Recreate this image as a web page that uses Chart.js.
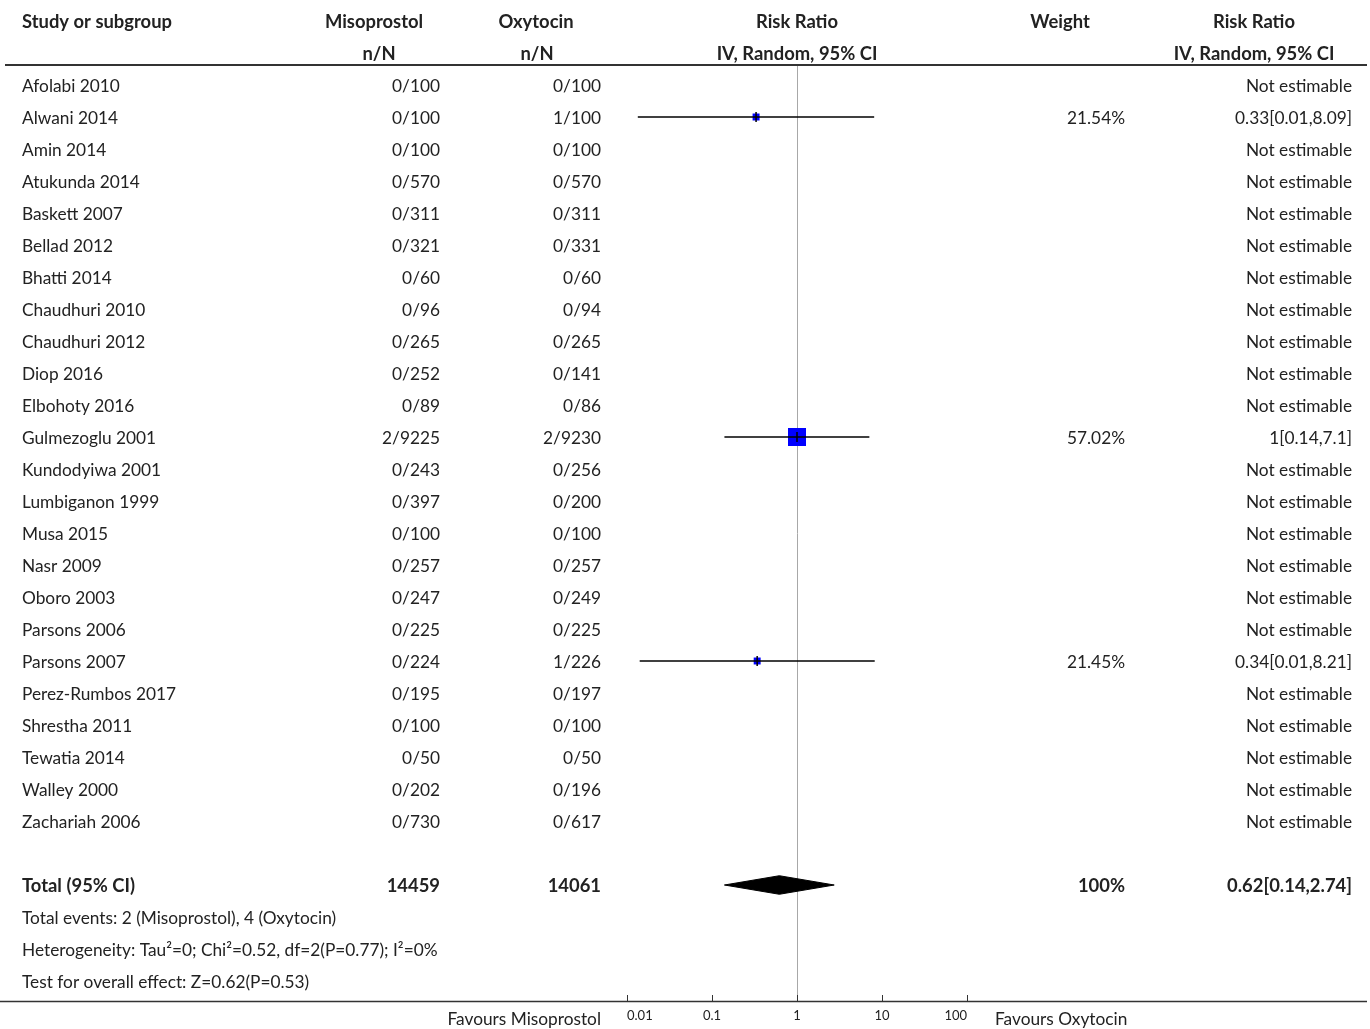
<!DOCTYPE html>
<html>
<head>
<meta charset="utf-8">
<script src="https://cdn.jsdelivr.net/npm/chart.js@4/dist/chart.umd.min.js"></script>
<style>
  html, body { margin: 0; padding: 0; background: #fff; }
  #wrap { width: 1370px; height: 1029px; }
</style>
</head>
<body>
<div id="wrap"><canvas id="forest" width="1370" height="1029"></canvas></div>
<script>
// study rows, top to bottom
const studies = [
  "Afolabi 2010", "Alwani 2014", "Amin 2014", "Atukunda 2014", "Baskett 2007",
  "Bellad 2012", "Bhatti 2014", "Chaudhuri 2010", "Chaudhuri 2012", "Diop 2016",
  "Elbohoty 2016", "Gulmezoglu 2001", "Kundodyiwa 2001", "Lumbiganon 1999", "Musa 2015",
  "Nasr 2009", "Oboro 2003", "Parsons 2006", "Parsons 2007", "Perez-Rumbos 2017",
  "Shrestha 2011", "Tewatia 2014", "Walley 2000", "Zachariah 2006"
];
const misoEvents = [0, 0, 0, 0, 0, 0, 0, 0, 0, 0, 0, 2, 0, 0, 0, 0, 0, 0, 0, 0, 0, 0, 0, 0];
const misoTotals = [100, 100, 100, 570, 311, 321, 60, 96, 265, 252, 89, 9225, 243, 397, 100, 257, 247, 225, 224, 195, 100, 50, 202, 730];
const oxyEvents = [0, 1, 0, 0, 0, 0, 0, 0, 0, 0, 0, 2, 0, 0, 0, 0, 0, 0, 1, 0, 0, 0, 0, 0];
const oxyTotals = [100, 100, 100, 570, 311, 331, 60, 94, 265, 141, 86, 9230, 256, 200, 100, 257, 249, 225, 226, 197, 100, 50, 196, 617];

// estimable studies: risk ratio and CI (null = not estimable)
const riskRatio = [null, 0.33, null, null, null, null, null, null, null, null, null, 1, null, null, null, null, null, null, 0.34, null, null, null, null, null];
const ciLower = [null, 0.0134, null, null, null, null, null, null, null, null, null, 0.14, null, null, null, null, null, null, 0.0141, null, null, null, null, null];
const ciUpper = [null, 8.09, null, null, null, null, null, null, null, null, null, 7.1, null, null, null, null, null, null, 8.21, null, null, null, null, null];
const weights = [null, 21.54, null, null, null, null, null, null, null, null, null, 57.02, null, null, null, null, null, null, 21.45, null, null, null, null, null];
const rrLabels = ["Not estimable", "0.33[0.01,8.09]", "Not estimable", "Not estimable", "Not estimable",
  "Not estimable", "Not estimable", "Not estimable", "Not estimable", "Not estimable",
  "Not estimable", "1[0.14,7.1]", "Not estimable", "Not estimable", "Not estimable",
  "Not estimable", "Not estimable", "Not estimable", "0.34[0.01,8.21]", "Not estimable",
  "Not estimable", "Not estimable", "Not estimable", "Not estimable"];

// pooled result
const totalMiso = 14459;
const totalOxy = 14061;
const totalRR = 0.62;
const totalLower = 0.14;
const totalUpper = 2.74;
const totalWeight = "100%";
const totalLabel = "0.62[0.14,2.74]";
const footerLines = [
  "Total events: 2 (Misoprostol), 4 (Oxytocin)",
  "Heterogeneity: Tau\u00b2=0; Chi\u00b2=0.52, df=2(P=0.77); I\u00b2=0%",
  "Test for overall effect: Z=0.62(P=0.53)"
];

// axis
const tickValues = [0.01, 0.1, 1, 10, 100];
const tickLabels = ["0.01", "0.1", "1", "10", "100"];
const favoursLeft = "Favours Misoprostol";
const favoursRight = "Favours Oxytocin";

// layout helpers
const FONT = "Lato, 'Noto Sans', sans-serif";
const FS = 17.3;
const FS_BOLD = 18.4;
const TEXT = "#222";
const TEXT_DY = 1;
const totalRow = studies.length + 1;
const diamondHalf = 0.29;

const ciSets = [];
const squares = [];
studies.forEach((s, i) => {
  if (riskRatio[i] == null) return;
  ciSets.push({
    data: [{ x: ciLower[i], y: i }, { x: ciUpper[i], y: i }],
    showLine: true, borderColor: "#000", borderWidth: 1.5, pointRadius: 0, order: 0
  });
  squares.push({ x: riskRatio[i], y: i, w: weights[i] });
});

const datasets = [
  ...ciSets,
  {
    data: squares, pointStyle: "rect", backgroundColor: "#0000ff", borderWidth: 0,
    pointRadius: (ctx) => ((0.31 * ctx.raw.w + 0.3) / Math.SQRT2),
    order: 1
  },
  {
    data: squares.map(p => ({ x: p.x, y: p.y })), pointStyle: "line", pointRotation: 90,
    pointRadius: 5, borderColor: "#000", borderWidth: 1.5, order: 0
  },
  {
    data: [
      { x: totalLower, y: totalRow }, { x: totalRR, y: totalRow - diamondHalf },
      { x: totalUpper, y: totalRow }, { x: totalRR, y: totalRow + diamondHalf },
      { x: totalLower, y: totalRow }
    ],
    showLine: true, fill: "shape", backgroundColor: "#000", borderColor: "#000",
    borderWidth: 1, pointRadius: 0, tension: 0, order: 0
  }
];

const tablePlugin = {
  id: "tableText",
  afterDraw(chart) {
    const { ctx, chartArea } = chart;
    const xs = chart.scales.x;
    const ys = chart.scales.y;
    const W = chart.width;
    const put = (txt, x, row, align, bold) => {
      ctx.font = (bold ? "bold " + FS_BOLD : FS) + "px " + FONT;
      ctx.textAlign = align;
      ctx.fillText(txt, x, ys.getPixelForValue(row) + TEXT_DY);
    };
    ctx.save();
    ctx.fillStyle = TEXT;
    ctx.textBaseline = "middle";

    // headers
    put("Study or subgroup", 22, -2, "left", true);
    put("Misoprostol", 374, -2, "center", true);
    put("Oxytocin", 536, -2, "center", true);
    put("Risk Ratio", xs.getPixelForValue(1), -2, "center", true);
    put("Weight", 1060, -2, "center", true);
    put("Risk Ratio", 1254, -2, "center", true);
    put("n/N", 379, -1, "center", true);
    put("n/N", 537, -1, "center", true);
    put("IV, Random, 95% CI", xs.getPixelForValue(1), -1, "center", true);
    put("IV, Random, 95% CI", 1254, -1, "center", true);

    // study rows
    studies.forEach((s, i) => {
      put(s, 22, i, "left", false);
      put(misoEvents[i] + "/" + misoTotals[i], 440, i, "right", false);
      put(oxyEvents[i] + "/" + oxyTotals[i], 601, i, "right", false);
      if (weights[i] != null) put(weights[i].toFixed(2) + "%", 1125, i, "right", false);
      put(rrLabels[i], 1352, i, "right", false);
    });

    // total
    put("Total (95% CI)", 22, totalRow, "left", true);
    put(String(totalMiso), 440, totalRow, "right", true);
    put(String(totalOxy), 601, totalRow, "right", true);
    put(totalWeight, 1125, totalRow, "right", true);
    put(totalLabel, 1352, totalRow, "right", true);
    footerLines.forEach((t, k) => put(t, 22, totalRow + 1 + k, "left", false));

    // rules
    ctx.strokeStyle = "#333";
    ctx.lineWidth = 2;
    ctx.beginPath();
    ctx.moveTo(5, chartArea.top - 1);
    ctx.lineTo(W - 3, chartArea.top - 1);
    ctx.stroke();
    ctx.lineWidth = 1.5;
    ctx.beginPath();
    ctx.moveTo(0, chartArea.bottom + 0.5);
    ctx.lineTo(W - 3, chartArea.bottom + 0.5);
    ctx.stroke();
    ctx.lineWidth = 1;
    tickValues.forEach(v => {
      const px = Math.round(xs.getPixelForValue(v)) + 0.5;
      ctx.beginPath();
      ctx.moveTo(px, chartArea.bottom);
      ctx.lineTo(px, chartArea.bottom - 6);
      ctx.stroke();
    });

    // favours labels
    ctx.font = FS + "px " + FONT;
    ctx.textAlign = "right";
    ctx.fillText(favoursLeft, 601, chartArea.bottom + 18);
    ctx.textAlign = "left";
    ctx.fillText(favoursRight, 995, chartArea.bottom + 18);
    ctx.restore();
  }
};

new Chart(document.getElementById("forest"), {
  type: "scatter",
  data: { datasets },
  options: {
    responsive: false,
    animation: false,
    devicePixelRatio: 1,
    layout: { padding: { left: 627, right: 403, top: 66, bottom: 0 } },
    plugins: { legend: { display: false }, tooltip: { enabled: false } },
    scales: {
      x: {
        type: "logarithmic",
        position: "bottom",
        min: 0.01,
        max: 100,
        afterBuildTicks: (axis) => { axis.ticks = tickValues.map(v => ({ value: v })); },
        afterFit: (axis) => { axis.height = 28; },
        border: { display: false },
        grid: {
          drawTicks: false,
          lineWidth: 1,
          color: (c) => (c.tick && c.tick.value === 1 ? "#a8a8a8" : "rgba(0,0,0,0)")
        },
        ticks: {
          align: "inner",
          autoSkip: false,
          maxRotation: 0,
          padding: 7,
          color: TEXT,
          font: { family: FONT, size: 13 },
          callback: (v, i) => tickLabels[i]
        }
      },
      y: {
        type: "linear",
        display: false,
        reverse: true,
        min: -0.59375,
        max: 28.625
      }
    }
  },
  plugins: [tablePlugin]
});
</script>
</body>
</html>
